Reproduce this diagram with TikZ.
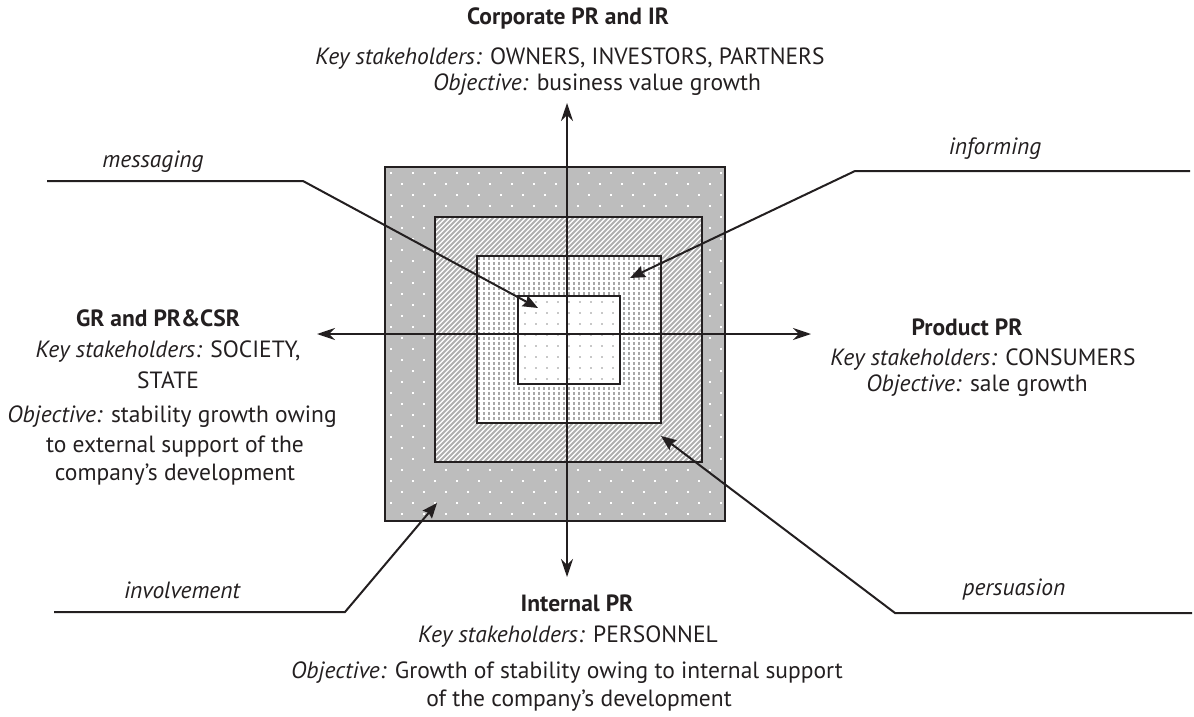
\documentclass[tikz,border=0pt]{standalone}
\usepackage{fontspec}
\setmainfont{PT Sans}
\usetikzlibrary{arrows.meta}
\definecolor{ink}{HTML}{231F20}
\definecolor{bandgray}{HTML}{BDBDBD}
\definecolor{hatchgray}{HTML}{B0B0B0}
\definecolor{dotgray}{HTML}{A8A8A8}
\definecolor{faintdot}{HTML}{C8C8C8}
\begin{document}
\begin{tikzpicture}[x=1pt,y=-1pt,
  frame/.style={line width=2.7pt, draw=ink},
  axisline/.style={line width=2pt, draw=ink,
    {Stealth[length=18pt,width=12pt,inset=6pt]}-{Stealth[length=18pt,width=12pt,inset=6pt]}},
  pointer/.style={line width=2pt, draw=ink, line join=miter,
    -{Stealth[length=15pt,width=12pt,inset=2pt]}},
  txt/.style={font=\fontsize{23.5}{28}\selectfont, text=ink, inner sep=0pt, anchor=base},
  head/.style={txt, font=\fontsize{23.5}{28}\selectfont\bfseries},
  tag/.style={txt, font=\fontsize{23.5}{28}\selectfont\itshape}]
\useasboundingbox (0,0) rectangle (1194,717);

% outer band: grey with a staggered grid of white dots
\fill[bandgray] (385,167) rectangle (725,521);
\begin{scope}
  \clip (385,167) rectangle (725,521);
  \foreach \r in {0,...,32}{
    \foreach \c in {0,...,16}{
      \pgfmathsetmacro{\xx}{390+22*\c+11*mod(\r,2)}
      \pgfmathsetmacro{\yy}{172+11*\r}
      \fill[white] (\xx,\yy) rectangle ++(2.2,2.2);
    }
  }
\end{scope}

% second band: diagonal hatching
\fill[white] (435,217) rectangle (702,462);
\begin{scope}
  \clip (435,217) rectangle (702,462);
  \foreach \k in {-52,...,54}{
    \draw[hatchgray, line width=1.9pt] ({435+5*\k},466) -- ++(260,-260);
  }
\end{scope}

% third band: dense grey dots
\fill[white] (477,256) rectangle (661,423);
\begin{scope}
  \clip (477,256) rectangle (661,423);
  \foreach \r in {0,...,34}{
    \foreach \c in {0,...,37}{
      \fill[dotgray] ({478+5*\c},{257+5*\r}) rectangle ++(2.3,2.5);
    }
  }
\end{scope}

% core: white with faint dots
\fill[white] (518,296) rectangle (620,384);
\begin{scope}
  \clip (518,296) rectangle (620,384);
  \foreach \r in {0,...,8}{
    \foreach \c in {0,...,9}{
      \fill[faintdot] ({524+11*\c},{301+11*\r}) rectangle ++(1.7,1.7);
    }
  }
\end{scope}

% square outlines
\draw[frame] (385,167) rectangle (725,521);
\draw[frame] (435,217) rectangle (702,462);
\draw[frame] (477,256) rectangle (661,423);
\draw[frame] (518,296) rectangle (620,384);

% axes
\coordinate (axT) at (567,103);
\coordinate (axB) at (567,577);
\coordinate (axL) at (317,334);
\coordinate (axR) at (811,334);
\draw[axisline] (axT) -- (axB);
\draw[axisline] (axL) -- (axR);

% top block
\node[head] (corpH) at (568,25) {Corporate PR and IR};
\node[txt] (corpK) at (570,64) {\textit{Key stakeholders:} OWNERS, INVESTORS, PARTNERS};
\node[txt] (corpO) at (597,91) {\textit{Objective:} business value growth};

% left block
\node[head] (govH) at (158,326) {GR and PR\&CSR};
\node[txt] (govK) at (168,357) {\textit{Key stakeholders:} SOCIETY,};
\node[txt] (govK2) at (168,388) {STATE};
\node[txt] (govO) at (172,422) {\textit{Objective:} stability growth owing};
\node[txt] (govO2) at (175,452) {to external support of the};
\node[txt] (govO3) at (175,480) {company’s development};

% right block
\node[head] (prodH) at (967,335) {Product PR};
\node[txt] (prodK) at (983,365) {\textit{Key stakeholders:} CONSUMERS};
\node[txt] (prodO) at (977,391) {\textit{Objective:} sale growth};

% bottom block
\node[head] (intH) at (577,611) {Internal PR};
\node[txt] (intK) at (568,642) {\textit{Key stakeholders:} PERSONNEL};
\node[txt] (intO) at (567,678) {\textit{Objective:} Growth of stability owing to internal support};
\node[txt] (intO2) at (579,706) {of the company’s development};

% tool labels
\node[tag] (msg) at (153,167) {messaging};
\node[tag] (inf) at (995,154) {informing};
\node[tag] (inv) at (182,598) {involvement};
\node[tag] (per) at (1014,595) {persuasion};

% leader lines
\coordinate (msgA) at (47,181);
\coordinate (msgB) at (303,181);
\coordinate (msgC) at (538,308);
\draw[pointer] (msgA) -- (msgB) -- (msgC);

\coordinate (infA) at (1190,171);
\coordinate (infB) at (855,171);
\coordinate (infC) at (630,278);
\draw[pointer] (infA) -- (infB) -- (infC);

\coordinate (invA) at (54,612);
\coordinate (invB) at (345,612);
\coordinate (invC) at (437,503);
\draw[pointer] (invA) -- (invB) -- (invC);

\coordinate (perA) at (1192,613);
\coordinate (perB) at (895,613);
\coordinate (perC) at (661,436);
\draw[pointer] (perA) -- (perB) -- (perC);
\end{tikzpicture}
\end{document}
